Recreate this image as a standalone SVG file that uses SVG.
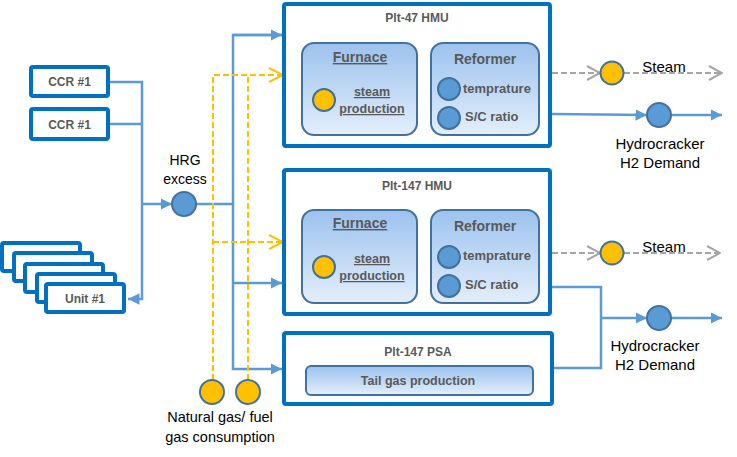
<svg xmlns="http://www.w3.org/2000/svg" width="737" height="457" viewBox="0 0 737 457">
<defs>
<linearGradient id="g" x1="0" y1="0" x2="0" y2="1">
<stop offset="0" stop-color="#9CC2EE"/>
<stop offset="1" stop-color="#E3EEFB"/>
</linearGradient>
<marker id="ab" viewBox="0 0 10 10" refX="10" refY="5" markerWidth="4.6" markerHeight="4.6" orient="auto">
<path d="M0,0 L10,5 L0,10 Z" fill="#5B9BD5"/>
</marker>
<marker id="ay" viewBox="0 0 16 16" refX="15" refY="8" markerWidth="16" markerHeight="16" markerUnits="userSpaceOnUse" orient="auto">
<path d="M1,1 L15,8 L1,15" fill="none" stroke="#FFC000" stroke-width="2"/>
</marker>
<marker id="ag" viewBox="0 0 16 16" refX="15" refY="8" markerWidth="16" markerHeight="16" markerUnits="userSpaceOnUse" orient="auto">
<path d="M2,1 L15,8 L2,15" fill="none" stroke="#A6A6A6" stroke-width="2"/>
</marker>
</defs>
<style>
.outer{fill:#fff;stroke:#0070C0;stroke-width:4}
.inner{fill:url(#g);stroke:#41719C;stroke-width:2}
.bt{font-family:"Liberation Sans",Arial,sans-serif;font-weight:bold;fill:#595959}
.lb{font-family:"Liberation Sans",Arial,sans-serif;fill:#000}
.bc{fill:#5B9BD5;stroke:#41719C;stroke-width:2}
.yc{fill:#FFC000;stroke:#41719C;stroke-width:2}
.bl{fill:none;stroke:#5B9BD5;stroke-width:2.5}
.yl{fill:none;stroke:#FFC000;stroke-width:2;stroke-dasharray:6,3}
.gl{fill:none;stroke:#A6A6A6;stroke-width:2;stroke-dasharray:6,3}
</style>

<g id="connectors">
<path class="bl" d="M109,82 H142 V299 H128" marker-end="url(#ab)"/>
<path class="bl" d="M109,124 H142"/>
<path class="bl" d="M142,204 H172" marker-end="url(#ab)"/>
<path class="bl" d="M196,204 H233"/>
<path class="bl" d="M283,35 H233 V369 H282" marker-end="url(#ab)"/>
<path class="bl" d="M233,35 H282" marker-end="url(#ab)"/>
<path class="bl" d="M233,283 H282" marker-end="url(#ab)"/>
<path class="yl" d="M213,380 V75 H283" marker-end="url(#ay)"/>
<path class="yl" d="M248,380 V75"/>
<path class="yl" d="M213,242 H283" marker-end="url(#ay)"/>
<path class="gl" d="M552,73 H600" marker-end="url(#ag)"/>
<path class="gl" d="M624,73 H722" marker-end="url(#ag)"/>
<path class="bl" d="M552,114 L647,115" marker-end="url(#ab)"/>
<path class="bl" d="M671,115 H722" marker-end="url(#ab)"/>
<path class="gl" d="M552,253 H600" marker-end="url(#ag)"/>
<path class="gl" d="M624,253 H720" marker-end="url(#ag)"/>
<path class="bl" d="M552,287 H601 V368 H554"/>
<path class="bl" d="M601,318 H647" marker-end="url(#ab)"/>
<path class="bl" d="M671,318 H722" marker-end="url(#ab)"/>
</g>

<g id="ccr1"><rect class="outer" x="31" y="67" width="77" height="29" rx="2"/><text class="bt" x="69.5" y="86" font-size="12" text-anchor="middle">CCR #1</text></g>
<g id="ccr2"><rect class="outer" x="31" y="109" width="77" height="30" rx="2"/><text class="bt" x="69.5" y="129" font-size="12" text-anchor="middle">CCR #1</text></g>

<g id="units">
<rect class="outer" x="2" y="243" width="78" height="28" rx="2"/>
<rect class="outer" x="14" y="253" width="78" height="28" rx="2"/>
<rect class="outer" x="25" y="264" width="78" height="28" rx="2"/>
<rect class="outer" x="37" y="274" width="78" height="28" rx="2"/>
<rect class="outer" x="46" y="284" width="78" height="28" rx="2"/>
<text class="bt" x="85" y="303" font-size="12" text-anchor="middle">Unit #1</text>
</g>

<g id="hrg">
<circle class="bc" cx="184" cy="204" r="12"/>
<text class="lb" x="185" y="165" font-size="14" text-anchor="middle">HRG</text>
<text class="lb" x="185" y="184" font-size="14" text-anchor="middle">excess</text>
</g>

<g id="hmu47">
<rect class="outer" x="284" y="4" width="266" height="142" rx="2"/>
<text class="bt" x="417" y="22" font-size="12" text-anchor="middle">Plt-47 HMU</text>
<rect class="inner" x="302" y="43" width="115" height="92" rx="12"/>
<text class="bt" x="360" y="62" font-size="14" text-anchor="middle" text-decoration="underline">Furnace</text>
<circle class="yc" cx="324" cy="100" r="11"/>
<text class="bt" x="372" y="96" font-size="12.5" text-anchor="middle" text-decoration="underline">steam</text>
<text class="bt" x="372" y="113" font-size="12.5" text-anchor="middle" text-decoration="underline">production</text>
<rect class="inner" x="431" y="43" width="108" height="92" rx="12"/>
<text class="bt" x="485" y="64" font-size="14" text-anchor="middle">Reformer</text>
<circle class="bc" cx="449" cy="89" r="11"/>
<text class="bt" x="463" y="93" font-size="13">temprature</text>
<circle class="bc" cx="449" cy="118" r="11"/>
<text class="bt" x="465" y="121" font-size="13">S/C ratio</text>
</g>

<g id="hmu147">
<rect class="outer" x="284" y="170" width="266" height="144" rx="2"/>
<text class="bt" x="417" y="190" font-size="12" text-anchor="middle">Plt-147 HMU</text>
<rect class="inner" x="302" y="210" width="115" height="93" rx="12"/>
<text class="bt" x="360" y="228" font-size="14" text-anchor="middle" text-decoration="underline">Furnace</text>
<circle class="yc" cx="324" cy="267" r="11"/>
<text class="bt" x="372" y="263" font-size="12.5" text-anchor="middle" text-decoration="underline">steam</text>
<text class="bt" x="372" y="280" font-size="12.5" text-anchor="middle" text-decoration="underline">production</text>
<rect class="inner" x="431" y="210" width="108" height="93" rx="12"/>
<text class="bt" x="485" y="231" font-size="14" text-anchor="middle">Reformer</text>
<circle class="bc" cx="449" cy="257" r="11"/>
<text class="bt" x="463" y="260" font-size="13">temprature</text>
<circle class="bc" cx="449" cy="286" r="11"/>
<text class="bt" x="465" y="289" font-size="13">S/C ratio</text>
</g>

<g id="psa147">
<rect class="outer" x="284" y="333" width="268" height="71" rx="2"/>
<text class="bt" x="418" y="356" font-size="12" text-anchor="middle">Plt-147 PSA</text>
<rect class="inner" x="306" y="366" width="227" height="29" rx="5"/>
<text class="bt" x="418" y="385" font-size="12.5" text-anchor="middle">Tail gas production</text>
</g>

<g id="ng">
<circle class="yc" cx="212" cy="392" r="12"/>
<circle class="yc" cx="248" cy="392" r="12"/>
<text class="lb" x="220" y="422" font-size="14.5" text-anchor="middle">Natural gas/ fuel</text>
<text class="lb" x="220" y="442" font-size="14.5" text-anchor="middle">gas consumption</text>
</g>

<g id="steam47">
<circle class="yc" cx="612" cy="73" r="11.5"/>
<text class="lb" x="664" y="72" font-size="15" text-anchor="middle">Steam</text>
</g>
<g id="h2d47">
<circle class="bc" cx="659" cy="115" r="12"/>
<text class="lb" x="660" y="149" font-size="15" text-anchor="middle">Hydrocracker</text>
<text class="lb" x="660" y="168" font-size="15" text-anchor="middle">H2 Demand</text>
</g>
<g id="steam147">
<circle class="yc" cx="612" cy="253" r="11.5"/>
<text class="lb" x="664" y="252" font-size="15" text-anchor="middle">Steam</text>
</g>
<g id="h2d147">
<circle class="bc" cx="659" cy="318" r="12"/>
<text class="lb" x="655" y="351" font-size="15" text-anchor="middle">Hydrocracker</text>
<text class="lb" x="655" y="370" font-size="15" text-anchor="middle">H2 Demand</text>
</g>
</svg>
